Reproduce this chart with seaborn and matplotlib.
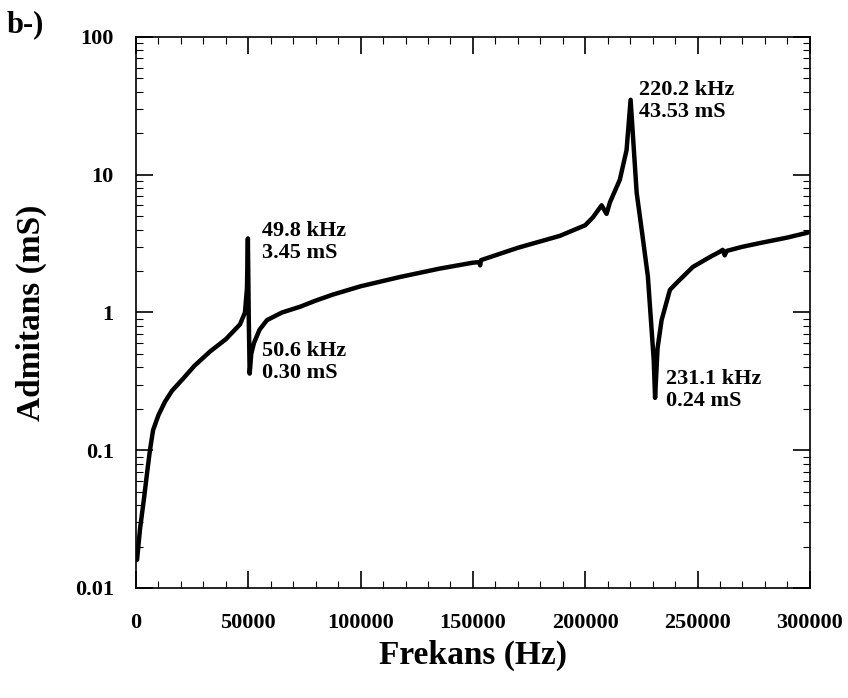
import seaborn as sns
import numpy as np
import pandas as pd
import matplotlib
matplotlib.use("Agg")
import matplotlib.pyplot as plt
from matplotlib.ticker import MultipleLocator, LogLocator, FixedLocator, FixedFormatter

sns.set_style("ticks")
plt.rcParams["font.family"] = ["Liberation Serif", "DejaVu Serif"]
plt.rcParams["font.weight"] = "bold"
plt.rcParams["text.color"] = "black"
plt.rcParams["axes.labelcolor"] = "black"
plt.rcParams["xtick.color"] = "black"
plt.rcParams["ytick.color"] = "black"

# frequency (Hz) and admittance (mS)
frekans = [450, 1800, 3500, 5000, 6200, 7600, 10000, 12900, 16000, 20900, 26000, 32900,
           40000, 46300, 48500, 49400, 49800, 50200, 50600, 51300, 52500, 55000, 58300,
           65000, 73000, 80000, 87700, 100000, 117500, 135000, 150000, 152800, 153200,
           153600, 170000, 188700, 200000, 203400, 207300, 209500, 211000, 215400, 218400,
           220200, 222900, 225500, 227900, 230500, 231100, 232200, 234000, 237700, 240700,
           247900, 255000, 259900, 261200, 262100, 263000, 270000, 277700, 290000, 299100]
admitans = [0.016, 0.027, 0.044, 0.07, 0.1, 0.14, 0.18, 0.225, 0.27, 0.33, 0.41, 0.52,
            0.64, 0.82, 1.0, 1.5, 3.45, 0.9, 0.36, 0.5, 0.6, 0.75, 0.88,
            1.0, 1.1, 1.22, 1.35, 1.55, 1.81, 2.08, 2.3, 2.32, 2.2,
            2.4, 2.95, 3.6, 4.3, 4.9, 6.0, 5.2, 6.3, 9.2, 15.1,
            35.0, 7.4, 3.6, 1.82, 0.45, 0.24, 0.55, 0.88, 1.46, 1.64,
            2.14, 2.5, 2.76, 2.85, 2.6, 2.8, 3.0, 3.19, 3.5, 3.8]

xticks = [0, 50000, 100000, 150000, 200000, 250000, 300000]
yticks = [0.01, 0.1, 1, 10, 100]
ytick_labels = ["0.01", "0.1", "1", "10", "100"]

notlar = [(56000, 4.6, "49.8 kHz\n3.45 mS"),
          (56000, 0.62, "50.6 kHz\n0.30 mS"),
          (224000, 49, "220.2 kHz\n43.53 mS"),
          (236000, 0.39, "231.1 kHz\n0.24 mS")]

df = pd.DataFrame({"Frekans": frekans, "Admitans": admitans})

fig = plt.figure(figsize=(8.48, 6.98), dpi=100)
ax = fig.add_axes([0.1604, 0.1576, 0.7946, 0.7894])

sns.lineplot(data=df, x="Frekans", y="Admitans", ax=ax, color="black", linewidth=3.2,
             estimator=None, sort=False)

ax.set_yscale("log")
ax.set(xlim=(0, 300000), ylim=(0.01, 100))

ax.xaxis.set_major_locator(FixedLocator(xticks))
ax.xaxis.set_minor_locator(MultipleLocator(10000))
ax.set_xticks(xticks)
ax.set_xticklabels([str(t) for t in xticks], fontsize=16, fontweight="bold")
ax.yaxis.set_major_locator(FixedLocator(yticks))
ax.yaxis.set_major_formatter(FixedFormatter(ytick_labels))
ax.yaxis.set_minor_locator(LogLocator(base=10, subs=np.arange(2, 10)))
ax.yaxis.set_minor_formatter(plt.NullFormatter())
for lab in ax.get_yticklabels():
    lab.set_fontsize(16)
    lab.set_fontweight("bold")

ax.tick_params(which="both", direction="in", top=True, right=True, color="black")
ax.tick_params(axis="x", which="major", length=12, width=1.2, pad=18)
ax.tick_params(axis="y", which="major", length=12, width=1.2, pad=16)
ax.tick_params(which="minor", length=5, width=0.8)
for sp in ax.spines.values():
    sp.set_color("black")
    sp.set_linewidth(1.2)

ax.set_xlabel("Frekans (Hz)", fontsize=24, fontweight="bold", labelpad=5)
ax.set_ylabel("Admitans (mS)", fontsize=24, fontweight="bold", labelpad=20)

for fx, fy, txt in notlar:
    ax.text(fx, fy, txt, fontsize=16, fontweight="bold", va="top", ha="left",
            linespacing=1.15)

fig.text(0.008, 0.985, "b-)", fontsize=22, fontweight="bold", va="top", ha="left")

fig.savefig("out.png", dpi=100)
